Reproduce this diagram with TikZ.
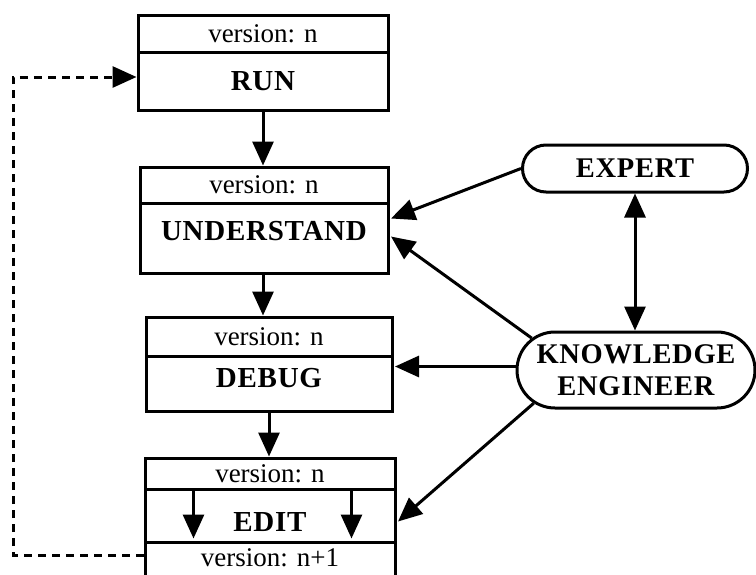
\documentclass[tikz,border=0pt]{standalone}
\usepackage{fontspec}
\setmainfont{Liberation Serif}
\newfontfamily\capsfont[LetterSpace=2.5]{Liberation Serif}
\usetikzlibrary{arrows.meta,shapes.misc}
\begin{document}
\begin{tikzpicture}[x=1pt,y=-1pt,
  cell/.style={draw, line width=3pt, rectangle, inner sep=0pt},
  tag/.style={cell, font=\fontsize{27}{32}\selectfont},
  title/.style={cell, font=\fontsize{29}{33}\selectfont\capsfont\bfseries},
  actor/.style={draw, line width=3pt, rounded rectangle, inner sep=0pt,
    align=center, font=\fontsize{28.5}{32.5}\selectfont\capsfont\bfseries},
  flow/.style={line width=3pt, -{Triangle[length=24pt,width=21pt]}},
  both/.style={line width=3pt, {Triangle[length=24pt,width=21pt]}-{Triangle[length=24pt,width=21pt]}},
  loop/.style={line width=3pt, dash pattern=on 8pt off 6pt,
    -{Triangle[length=24pt,width=21pt]}}]
\useasboundingbox (0,0) rectangle (756,574);
\clip (0,0) rectangle (756,574);

% stage boxes: version row above, stage name below
\node[tag, minimum width=250pt, minimum height=37pt] (runv) at (263,33.5) {version: n};
\node[title, minimum width=250pt, minimum height=58pt] (run) at (263,81) {RUN};

\node[tag, minimum width=248pt, minimum height=36pt] (undv) at (264,185) {version: n};
\node[title, minimum width=248pt, minimum height=70pt, text depth=14pt] (und) at (264,238) {UNDERSTAND};

\node[tag, minimum width=246pt, minimum height=39pt] (debugv) at (269,336.5) {version: n};
\node[title, minimum width=246pt, minimum height=55pt, text depth=12pt] (debug) at (269,383.5) {DEBUG};

\node[tag, minimum width=250pt, minimum height=31pt] (editv) at (270,473.5) {version: n};
\node[title, minimum width=250pt, minimum height=53pt, text height=33pt] (edit) at (270,515.5) {EDIT};
\node[tag, minimum width=250pt, minimum height=58pt, text depth=26pt] (editw) at (270,571) {version: n+1};

% people
\node[actor, minimum width=225pt, minimum height=47pt] (expert) at (635,168.5) {EXPERT};
\node[actor, minimum width=238pt, minimum height=76pt] (ke) at (636,370) {KNOWLEDGE\\ENGINEER};

% main sequence
\draw[flow] (run.south) -- (run.south |- undv.north);
\draw[flow] (und.south -| run.south) -- (run.south |- debugv.north);
\draw[flow] (debug.south) -- (debug.south |- editv.north);

% edits inside the EDIT stage
\coordinate (e1) at ([xshift=50pt]editv.south west);
\coordinate (e2) at ([xshift=208pt]editv.south west);
\draw[flow] (e1) -- ++(0,48);
\draw[flow] (e2) -- ++(0,48);

% input from the people
\coordinate (t1) at ([xshift=1.5pt,yshift=-17pt]und.north east);
\coordinate (t2) at ([xshift=1.5pt,yshift=-35pt]und.north east);
\coordinate (t3) at ([xshift=1.5pt,yshift=-12pt]debug.north east);
\coordinate (t4) at ([xshift=1.5pt,yshift=-34pt]edit.north east);
\draw[flow] (expert.west) -- (t1);
\draw[flow] (ke.163) -- (t2);
\draw[flow] (ke.west |- t3) -- (t3);
\draw[flow] (ke.198) -- (t4);
\draw[both] (expert.south) -- (expert.south |- ke.north);

% new version feeds back to RUN
\coordinate (lstart) at ([yshift=-15pt]editw.north west);
\coordinate (lend) at ([yshift=4pt]run.west);
\coordinate (loopx) at (13,0);
\draw[loop] (lstart) -- (loopx |- lstart) -- (loopx |- lend) -- (lend);
\end{tikzpicture}
\end{document}
